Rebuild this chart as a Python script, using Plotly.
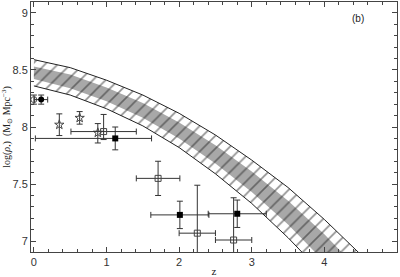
import plotly.graph_objects as go

# Band boundaries
band_z = [0.0, 0.5, 1.0, 1.5, 2.0, 2.5, 3.0, 3.5, 4.0, 4.5, 4.7]
outer_upper = [8.59, 8.52, 8.41, 8.28, 8.12, 7.93, 7.71, 7.47, 7.19, 6.89, 6.76]
outer_lower = [8.36, 8.28, 8.16, 8.01, 7.82, 7.59, 7.33, 7.03, 6.70, 6.32, 6.15]
inner_upper = [8.53, 8.46, 8.345, 8.21, 8.04, 7.84, 7.61, 7.355, 7.06, 6.74, 6.60]
inner_lower = [8.42, 8.34, 8.225, 8.08, 7.90, 7.68, 7.43, 7.145, 6.82, 6.47, 6.32]

# Open circle
oc_z = [0.0]
oc_y = [8.24]
oc_ey = [0.04]

# Filled circle
fc_z = [0.1]
fc_y = [8.24]
fc_ex = [0.09]
fc_ey = [0.04]

# Stars
st_z = [0.35, 0.63, 0.88]
st_y = [8.02, 8.08, 7.95]
st_ey_p = [0.095, 0.055, 0.08]
st_ey_m = [0.095, 0.055, 0.09]

# Open squares
os_z = [0.96, 1.71, 2.25, 2.75]
os_y = [7.96, 7.55, 7.07, 7.01]
os_ex = [0.45, 0.30, 0.25, 0.25]
os_ey_p = [0.15, 0.15, 0.42, 0.37]
os_ey_m = [0.07, 0.15, 0.5, 0.5]

# Filled squares
fs_z = [1.12, 2.01, 2.80]
fs_y = [7.90, 7.23, 7.24]
fs_ex_m = [1.1, 0.4, 0.4]
fs_ex_p = [0.5, 0.4, 0.4]
fs_ey = [0.10, 0.12, 0.12]

x_ticks = [0, 1, 2, 3, 4, 5]
y_ticks = [7, 7.5, 8, 8.5, 9]

ecol = "#333333"
fig = go.Figure()

fig.add_trace(go.Scatter(
    x=band_z + band_z[::-1], y=outer_upper + outer_lower[::-1],
    mode="lines", fill="toself", line=dict(color="#222222", width=1),
    fillcolor="white",
    fillpattern=dict(shape="/", fgcolor="#222222", bgcolor="white", size=9, solidity=0.18),
    hoverinfo="skip", showlegend=False))
fig.add_trace(go.Scatter(
    x=band_z + band_z[::-1], y=inner_upper + inner_lower[::-1],
    mode="lines", fill="toself", line=dict(width=0, color="rgba(0,0,0,0)"),
    fillcolor="#a8a8a8",
    fillpattern=dict(shape="/", fgcolor="#222222", bgcolor="#a8a8a8", size=9, solidity=0.18),
    hoverinfo="skip", showlegend=False))

def eb(arr, arrm=None):
    d = dict(type="data", array=arr, color=ecol, thickness=1, width=3, visible=True)
    if arrm is not None:
        d["symmetric"] = False
        d["arrayminus"] = arrm
    return d

fig.add_trace(go.Scatter(x=oc_z, y=oc_y, mode="markers",
    marker=dict(symbol="circle-open", size=6, color="#555555", line=dict(width=1)),
    error_y=eb(oc_ey), showlegend=False, cliponaxis=False))
fig.add_trace(go.Scatter(x=fc_z, y=fc_y, mode="markers",
    marker=dict(symbol="circle", size=6, color="black"),
    error_x=eb(fc_ex), error_y=eb(fc_ey), showlegend=False))
fig.add_trace(go.Scatter(x=st_z, y=st_y, mode="markers",
    marker=dict(symbol="star-open", size=7, color="#444444", line=dict(width=1)),
    error_y=eb(st_ey_p, st_ey_m), showlegend=False))
fig.add_trace(go.Scatter(x=os_z, y=os_y, mode="markers",
    marker=dict(symbol="square-open", size=6, color="#444444", line=dict(width=1)),
    error_x=eb(os_ex), error_y=eb(os_ey_p, os_ey_m), showlegend=False))
fig.add_trace(go.Scatter(x=fs_z, y=fs_y, mode="markers",
    marker=dict(symbol="square", size=6, color="black"),
    error_x=eb(fs_ex_p, fs_ex_m), error_y=eb(fs_ey), showlegend=False))

axis_common = dict(
    showline=True, linecolor="#444444", linewidth=1, mirror="allticks",
    ticks="inside", ticklen=5, tickcolor="#444444", showgrid=False, zeroline=False,
    tickfont=dict(family="Liberation Sans", size=11, color="#333333"),
)
fig.update_xaxes(range=[-0.04, 5.0], tickvals=x_ticks, ticktext=[str(v) for v in x_ticks],
    minor=dict(dtick=0.2, tick0=0, ticks="inside", ticklen=3, tickcolor="#444444"),
    title=dict(text="z", font=dict(family="Liberation Serif", size=11, color="#222222"), standoff=0),
    **axis_common)
fig.update_yaxes(range=[6.905, 9.095], tickvals=y_ticks, ticktext=["7", "7.5", "8", "8.5", "9"],
    minor=dict(dtick=0.1, tick0=7, ticks="inside", ticklen=3, tickcolor="#444444"),
    title=dict(text="log(<i>ρ</i><sub>•</sub>)  (M<sub>⊙</sub> Mpc<sup>−3</sup>)",
               font=dict(family="Liberation Serif", size=10, color="#222222"), standoff=2),
    **axis_common)

fig.add_annotation(x=0.915, y=0.965, xref="paper", yref="paper", text="(b)", showarrow=False,
    font=dict(family="Liberation Sans", size=10, color="#222222"))

fig.update_layout(width=400, height=277, margin=dict(l=31, r=3, t=1, b=22),
    paper_bgcolor="white", plot_bgcolor="white")

fig.write_html("out.html")
